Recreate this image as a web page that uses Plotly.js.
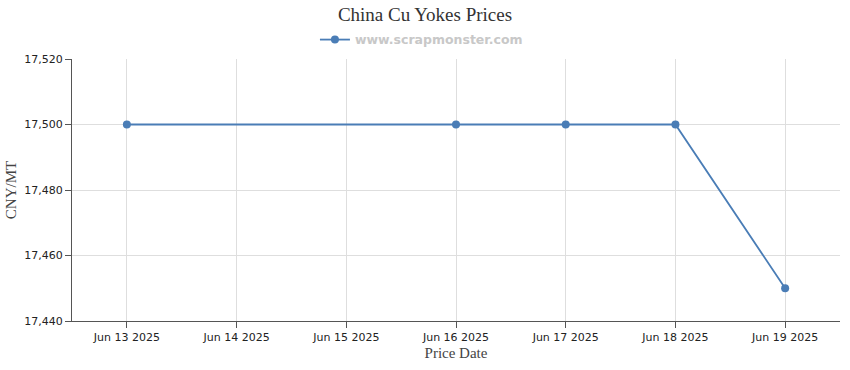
<!DOCTYPE html>
<html>
<head>
<meta charset="utf-8">
<script src="https://cdn.plot.ly/plotly-3.0.1.min.js"></script>
<style>html,body{margin:0;padding:0;background:#fff;}#chart{width:850px;height:370px;}</style>
</head>
<body>
<div id="chart"></div>
<script>
const dates = ["2025-06-13", "2025-06-16", "2025-06-17", "2025-06-18", "2025-06-19"];
const prices = [17500, 17500, 17500, 17500, 17450];
const seriesName = "www.scrapmonster.com";
const chartTitle = "China Cu Yokes Prices";
const xTitle = "Price Date";
const yTitle = "CNY/MT";

const trace = {
  x: dates,
  y: prices,
  type: "scatter",
  mode: "lines+markers",
  name: seriesName,
  line: {color: "#4a7db6", width: 1.8},
  marker: {color: "#4a7db6", size: 8, symbol: "circle"}
};

const layout = {
  width: 850,
  height: 370,
  autosize: false,
  margin: {l: 72, r: 10, t: 59, b: 49, autoexpand: false},
  paper_bgcolor: "#fff",
  plot_bgcolor: "#fff",
  title: {
    text: chartTitle,
    font: {family: "Liberation Serif, serif", size: 19, color: "#333"},
    x: 0.5, xanchor: "center", xref: "container", y: 0.96, yanchor: "middle", yref: "container"
  },
  showlegend: true,
  legend: {
    orientation: "h",
    x: 0.455, xanchor: "center", xref: "paper",
    y: 0.892, yanchor: "middle", yref: "container",
    font: {family: "DejaVu Sans, sans-serif", size: 12.5, color: "#c8c8c8", weight: "bold"},
    bgcolor: "rgba(0,0,0,0)"
  },
  xaxis: {
    type: "date",
    range: ["2025-06-12 12:00", "2025-06-19 12:00"],
    dtick: 86400000,
    tick0: "2025-06-13",
    tickformat: "%b %d %Y",
    tickangle: 0,
    automargin: false,
    tickfont: {family: "DejaVu Sans, sans-serif", size: 11, color: "#222"},
    showgrid: true,
    gridcolor: "#dedede",
    showline: true,
    linecolor: "#555",
    linewidth: 1,
    ticks: "outside",
    ticklen: 6,
    tickcolor: "#555",
    zeroline: false,
    title: {text: xTitle, font: {family: "Liberation Serif, serif", size: 15, color: "#444"}, standoff: 4}
  },
  yaxis: {
    range: [17440, 17520],
    dtick: 20,
    tickformat: ",d",
    automargin: false,
    tickfont: {family: "DejaVu Sans, sans-serif", size: 11, color: "#222"},
    showgrid: true,
    gridcolor: "#dedede",
    showline: true,
    linecolor: "#555",
    linewidth: 1,
    ticks: "outside",
    ticklen: 6,
    tickcolor: "#555",
    zeroline: false,
    title: {text: yTitle, font: {family: "Liberation Serif, serif", size: 15, color: "#444"}, standoff: 4}
  }
};

Plotly.newPlot("chart", [trace], layout, {displayModeBar: false, staticPlot: true});
</script>
</body>
</html>
